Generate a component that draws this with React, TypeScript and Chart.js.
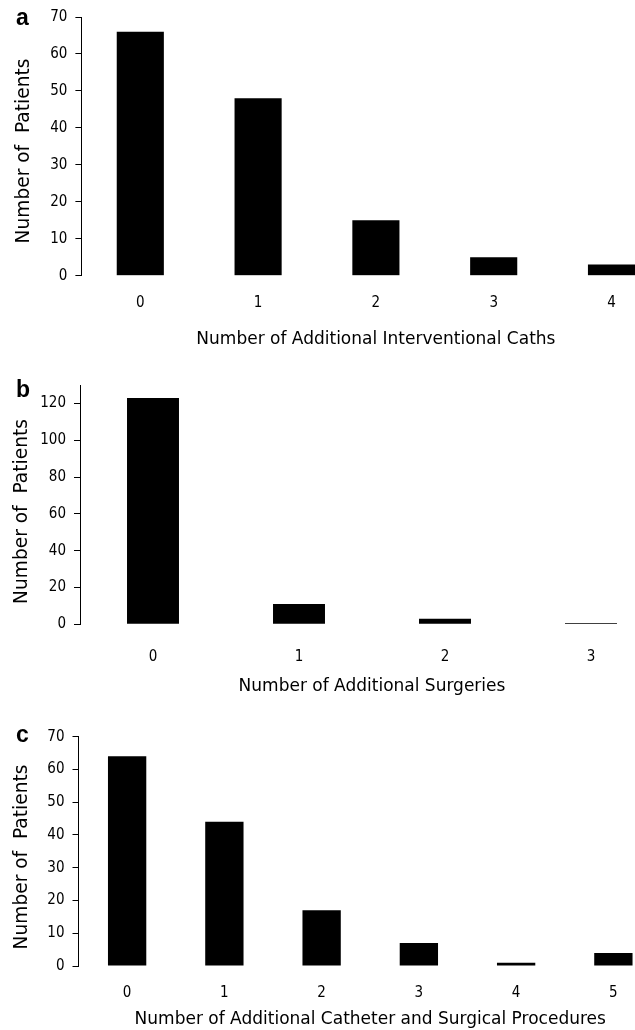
import { useEffect, useRef } from "react";
import { Chart, registerables } from "chart.js";

Chart.register(...registerables);

const catsA = ["0", "1", "2", "3", "4"];
const valsA = [66, 48, 15, 5, 3];
const ticksA = [0, 10, 20, 30, 40, 50, 60, 70];

const catsB = ["0", "1", "2", "3"];
const valsB = [123, 11, 3, 0.7];
const ticksB = [0, 20, 40, 60, 80, 100, 120];

const catsC = ["0", "1", "2", "3", "4", "5"];
const valsC = [64, 44, 17, 7, 1, 4];
const ticksC = [0, 10, 20, 30, 40, 50, 60, 70];

const yTitle = "Number of  Patients";
const xTitleA = "Number of Additional Interventional Caths";
const xTitleB = "Number of Additional Surgeries";
const xTitleC = "Number of Additional Catheter and Surgical Procedures";

const FONT = "'DejaVu Sans', Verdana, sans-serif";
const TICK_FONT = "'DejaVu Sans Condensed', 'DejaVu Sans', sans-serif";

type Panel = {
  letter: string;
  cats: string[];
  vals: number[];
  ticks: number[];
  max: number;
  xTitle: string;
  top: number;
  W: number;
  H: number;
  axisX: number;
  areaTop: number;
  areaBottom: number;
  areaRight: number;
  barPct: number;
  xTickPad: number;
  xTitlePadBottom: number;
  yTitleX: number;
  yTitleY: number;
  letterY: number;
};

const panels: Panel[] = [
  {
    letter: "a", cats: catsA, vals: valsA, ticks: ticksA, max: 70, xTitle: xTitleA,
    top: 0, W: 680, H: 355, axisX: 81.4, areaTop: 16, areaBottom: 275.7, areaRight: 670.4,
    barPct: 0.4, xTickPad: 18.3, xTitlePadBottom: 4.8, yTitleX: 24, yTitleY: 151, letterY: 25,
  },
  {
    letter: "b", cats: catsB, vals: valsB, ticks: ticksB, max: 130, xTitle: xTitleB,
    top: 360, W: 680, H: 340, axisX: 80, areaTop: 25, areaBottom: 264.3, areaRight: 664,
    barPct: 0.356, xTickPad: 23.4, xTitlePadBottom: 2.8, yTitleX: 22, yTitleY: 151.5, letterY: 37,
  },
  {
    letter: "c", cats: catsC, vals: valsC, ticks: ticksC, max: 70, xTitle: xTitleC,
    top: 700, W: 680, H: 330, axisX: 78.5, areaTop: 36.7, areaBottom: 266, areaRight: 662,
    barPct: 0.394, xTickPad: 18.3, xTitlePadBottom: 0, yTitleX: 22, yTitleY: 157, letterY: 42,
  },
];

function PanelChart({ p }: { p: Panel }) {
  const ref = useRef<HTMLCanvasElement | null>(null);
  useEffect(() => {
    if (!ref.current) return;
    const textPlugin = {
      id: "panelText",
      afterDraw(chart: any) {
        const ctx = chart.ctx;
        ctx.save();
        ctx.fillStyle = "#000";
        ctx.font = "bold 23px 'Liberation Sans', Arial, sans-serif";
        ctx.textAlign = "left";
        ctx.textBaseline = "alphabetic";
        ctx.fillText(p.letter, 16, p.letterY);
        ctx.restore();

        ctx.save();
        ctx.fillStyle = "#000";
        ctx.font = "18.6px " + FONT;
        ctx.translate(p.yTitleX, p.yTitleY);
        ctx.rotate(-Math.PI / 2);
        ctx.textAlign = "center";
        ctx.textBaseline = "middle";
        ctx.fillText(yTitle, 0, 0);
        ctx.restore();
      },
    };
    const chart = new Chart(ref.current, {
      type: "bar",
      data: {
        labels: p.cats,
        datasets: [
          {
            data: p.vals,
            backgroundColor: "#000",
            borderWidth: 0,
            barPercentage: p.barPct,
            categoryPercentage: 1,
          },
        ],
      },
      options: {
        animation: false,
        responsive: false,
        maintainAspectRatio: false,
        layout: { padding: { top: p.areaTop, right: p.W - p.areaRight, left: 0, bottom: 0 } },
        plugins: { legend: { display: false }, tooltip: { enabled: false } },
        scales: {
          x: {
            type: "category",
            grid: { display: false, drawTicks: false },
            border: { display: false },
            ticks: { color: "#000", font: { family: TICK_FONT, size: 15 }, padding: p.xTickPad, maxRotation: 0 },
            title: {
              display: true,
              text: p.xTitle,
              color: "#000",
              font: { family: FONT, size: 17 },
              padding: { top: 0, bottom: p.xTitlePadBottom },
            },
            afterFit: (s: any) => {
              s.height = p.H - p.areaBottom;
            },
          },
          y: {
            min: 0,
            max: p.max,
            grid: { display: true, drawOnChartArea: false, drawTicks: true, tickLength: 6, color: "#000", lineWidth: 1 },
            border: { display: true, color: "#000", width: 1 },
            ticks: { color: "#000", font: { family: TICK_FONT, size: 15 }, padding: 8 },
            afterBuildTicks: (s: any) => {
              s.ticks = p.ticks.map((v) => ({ value: v }));
            },
            afterFit: (s: any) => {
              s.width = p.axisX;
            },
            title: { display: false },
          },
        },
      },
      plugins: [textPlugin],
    });
    return () => chart.destroy();
  }, [p]);
  return (
    <canvas
      ref={ref}
      width={p.W}
      height={p.H}
      style={{ position: "absolute", left: 0, top: p.top, width: p.W, height: p.H, display: "block" }}
    />
  );
}

export default function App() {
  return (
    <div
      style={{
        position: "absolute",
        left: 0,
        top: 0,
        width: 635,
        height: 1030,
        overflow: "hidden",
        background: "#fff",
      }}
    >
      {panels.map((p) => (
        <PanelChart key={p.letter} p={p} />
      ))}
    </div>
  );
}
